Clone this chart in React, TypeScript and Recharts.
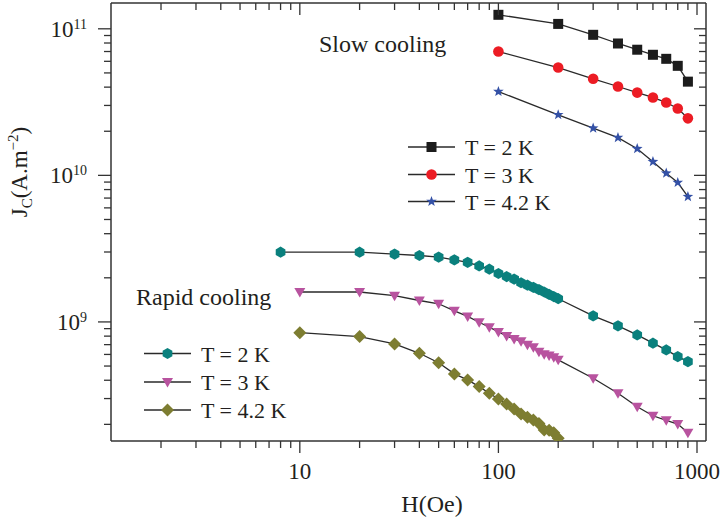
import React from "react";
import { LineChart, Line, XAxis, YAxis } from "recharts";

// slow cooling: H (Oe) and Jc (A/m^2)
const slowH = [100, 200, 300, 400, 500, 600, 700, 800, 900];
const slow2K = [1.246e11, 1.08e11, 9.1e10, 7.94e10, 7.2e10, 6.65e10, 6.24e10, 5.59e10, 4.36e10];
const slow3K = [7.0e10, 5.44e10, 4.56e10, 4.04e10, 3.67e10, 3.4e10, 3.14e10, 2.86e10, 2.45e10];
const slow42K = [3.73e10, 2.59e10, 2.1e10, 1.81e10, 1.52e10, 1.24e10, 1.035e10, 8.93e9, 7.16e9];

// rapid cooling
const rapid2KH = [8, 20, 30, 40, 50, 60, 70, 80, 90, 100, 110, 120, 130, 140, 150, 160, 170, 180, 190, 200, 300, 400, 500, 600, 700, 800, 900];
const rapid2K = [2.99e9, 2.99e9, 2.9e9, 2.84e9, 2.77e9, 2.65e9, 2.55e9, 2.41e9, 2.29e9, 2.14e9, 2.04e9, 1.96e9, 1.85e9, 1.78e9, 1.72e9, 1.66e9, 1.6e9, 1.54e9, 1.49e9, 1.44e9, 1.1e9, 9.4e8, 8.15e8, 7.16e8, 6.44e8, 5.8e8, 5.36e8];
const rapid3KH = [10, 20, 30, 40, 50, 60, 70, 80, 90, 100, 110, 120, 130, 140, 150, 160, 170, 180, 190, 200, 300, 400, 500, 600, 700, 800, 900];
const rapid3K = [1.6e9, 1.6e9, 1.51e9, 1.4e9, 1.33e9, 1.19e9, 1.09e9, 9.95e8, 9.2e8, 8.55e8, 8.02e8, 7.65e8, 7.38e8, 7.0e8, 6.72e8, 6.27e8, 6.02e8, 5.89e8, 5.74e8, 5.51e8, 4.13e8, 3.26e8, 2.64e8, 2.29e8, 2.13e8, 2.01e8, 1.75e8];
const rapid42KH = [10, 20, 30, 40, 50, 60, 70, 80, 90, 100, 110, 120, 130, 140, 150, 160, 170, 180, 190, 200];
const rapid42K = [8.45e8, 7.94e8, 7.08e8, 6.11e8, 5.27e8, 4.42e8, 4.02e8, 3.62e8, 3.26e8, 2.98e8, 2.75e8, 2.55e8, 2.35e8, 2.24e8, 2.14e8, 2.03e8, 1.83e8, 1.82e8, 1.75e8, 1.61e8];

const xTicks = [2, 3, 4, 5, 6, 7, 8, 9, 10, 20, 30, 40, 50, 60, 70, 80, 90, 100, 200, 300, 400, 500, 600, 700, 800, 900, 1000];
const yTicks = [
  2e8, 3e8, 4e8, 5e8, 6e8, 7e8, 8e8, 9e8,
  1e9, 2e9, 3e9, 4e9, 5e9, 6e9, 7e9, 8e9, 9e9,
  1e10, 2e10, 3e10, 4e10, 5e10, 6e10, 7e10, 8e10, 9e10,
  1e11,
];

const legendLabels = ["T = 2 K", "T = 3 K", "T = 4.2 K"];

const FONT = "Liberation Serif, Times New Roman, Times, serif";
const AXIS = "#333";
const TEXT = "#231f20";
const LINE = "#2a2a2a";

type Shape = "square" | "circle" | "star" | "hexagon" | "tri" | "diamond";

const series: { name: string; xs: number[]; ys: number[]; shape: Shape; color: string }[] = [
  { name: "s2", xs: slowH, ys: slow2K, shape: "square", color: "#1c1c1c" },
  { name: "s3", xs: slowH, ys: slow3K, shape: "circle", color: "#ec1c24" },
  { name: "s42", xs: slowH, ys: slow42K, shape: "star", color: "#3451a6" },
  { name: "r2", xs: rapid2KH, ys: rapid2K, shape: "hexagon", color: "#0a807d" },
  { name: "r3", xs: rapid3KH, ys: rapid3K, shape: "tri", color: "#b8539f" },
  { name: "r42", xs: rapid42KH, ys: rapid42K, shape: "diamond", color: "#7d7d31" },
];

const txt = { fontFamily: FONT, fill: TEXT } as const;

function Marker({ shape, cx, cy, color }: { shape: Shape; cx: number; cy: number; color: string }) {
  if (shape === "square") return <rect x={cx - 5} y={cy - 5} width={10} height={10} fill={color} />;
  if (shape === "circle") return <circle cx={cx} cy={cy} r={5.3} fill={color} />;
  if (shape === "hexagon") {
    const pts = [0, 1, 2, 3, 4, 5]
      .map((i) => {
        const a = (Math.PI / 3) * i + Math.PI / 6;
        return `${cx + 5.6 * Math.cos(a)},${cy + 5.6 * Math.sin(a)}`;
      })
      .join(" ");
    return <polygon points={pts} fill={color} />;
  }
  if (shape === "star") {
    const pts: string[] = [];
    for (let i = 0; i < 10; i++) {
      const r = i % 2 === 0 ? 5.6 : 2.3;
      const a = -Math.PI / 2 + (Math.PI / 5) * i;
      pts.push(`${cx + r * Math.cos(a)},${cy + r * Math.sin(a)}`);
    }
    return <polygon points={pts.join(" ")} fill={color} />;
  }
  if (shape === "tri")
    return <polygon points={`${cx - 5.5},${cy - 4} ${cx + 5.5},${cy - 4} ${cx},${cy + 5.5}`} fill={color} />;
  return <polygon points={`${cx},${cy - 6.5} ${cx + 6.5},${cy} ${cx},${cy + 6.5} ${cx - 6.5},${cy}`} fill={color} />;
}

const makeDot = (shape: Shape, color: string) => (p: any) => {
  if (p.cx == null || p.cy == null) return <g key={`e-${p.index}`} />;
  return <Marker key={`d-${p.index}`} shape={shape} cx={p.cx} cy={p.cy} color={color} />;
};

const isMajor = (v: number) => Math.abs(Math.log10(v) - Math.round(Math.log10(v))) < 1e-6;

function BottomTick({ x, y, payload }: any) {
  const major = isMajor(payload.value);
  return (
    <g>
      <line x1={x} x2={x} y1={y} y2={y + (major ? 12 : 7)} stroke={AXIS} strokeWidth={1.3} />
      {major && (
        <text x={x} y={y + 38} textAnchor="middle" fontSize={23} style={txt}>
          {payload.value}
        </text>
      )}
    </g>
  );
}

function TopTick({ x, y, payload }: any) {
  const major = isMajor(payload.value);
  return <line x1={x} x2={x} y1={y} y2={y + (major ? 12 : 7)} stroke={AXIS} strokeWidth={1.3} />;
}

function LeftTick({ x, y, payload }: any) {
  const major = isMajor(payload.value);
  const exp = Math.round(Math.log10(payload.value));
  return (
    <g>
      <line x1={x} x2={x - (major ? 13 : 7)} y1={y} y2={y} stroke={AXIS} strokeWidth={1.3} />
      {major && (
        <text x={x - 24} y={y + 8} textAnchor="end" fontSize={23} style={txt}>
          10
          <tspan dy={-8} fontSize={14}>
            {exp}
          </tspan>
        </text>
      )}
    </g>
  );
}

function RightTick({ x, y, payload }: any) {
  const major = isMajor(payload.value);
  return <line x1={x} x2={x - (major ? 12 : 7)} y1={y} y2={y} stroke={AXIS} strokeWidth={1.3} />;
}

function LegendBlock({ x, ys, items }: { x: number; ys: number[]; items: { shape: Shape; color: string }[] }) {
  return (
    <g>
      {items.map((it, i) => (
        <g key={i}>
          <line x1={x} x2={x + 47} y1={ys[i]} y2={ys[i]} stroke={LINE} strokeWidth={1.3} />
          <Marker shape={it.shape} cx={x + 23.5} cy={ys[i]} color={it.color} />
          <text x={x + 57} y={ys[i] + 8} fontSize={22} style={txt}>
            {legendLabels[i]}
          </text>
        </g>
      ))}
    </g>
  );
}

export default function App() {
  return (
    <div style={{ position: "absolute", left: 0, top: 0, width: 721, height: 519, background: "#fff", fontFamily: FONT }}>
      <LineChart width={721} height={519} margin={{ top: 0, right: 0, bottom: 0, left: 0 }}>
        <XAxis
          xAxisId="b"
          dataKey="x"
          type="number"
          scale="log"
          domain={[1.12, 1110]}
          allowDataOverflow
          ticks={xTicks}
          interval={0}
          tickSize={0}
          tickMargin={0}
          tickLine={false}
          height={78}
          axisLine={{ stroke: AXIS, strokeWidth: 1.5 }}
          tick={<BottomTick />}
        />
        <XAxis
          xAxisId="t"
          orientation="top"
          dataKey="x"
          type="number"
          scale="log"
          domain={[1.12, 1110]}
          allowDataOverflow
          ticks={xTicks}
          interval={0}
          tickSize={0}
          tickMargin={0}
          tickLine={false}
          height={3}
          axisLine={{ stroke: AXIS, strokeWidth: 1.5 }}
          tick={<TopTick />}
        />
        <YAxis
          yAxisId="l"
          type="number"
          scale="log"
          domain={[1.54e8, 1.5e11]}
          allowDataOverflow
          ticks={yTicks}
          interval={0}
          tickSize={0}
          tickMargin={0}
          tickLine={false}
          width={111}
          axisLine={{ stroke: AXIS, strokeWidth: 1.5 }}
          tick={<LeftTick />}
        />
        <YAxis
          yAxisId="r"
          orientation="right"
          type="number"
          scale="log"
          domain={[1.54e8, 1.5e11]}
          allowDataOverflow
          ticks={yTicks}
          interval={0}
          tickSize={0}
          tickMargin={0}
          tickLine={false}
          width={15}
          axisLine={{ stroke: AXIS, strokeWidth: 1.5 }}
          tick={<RightTick />}
        />
        {series.map((s) => (
          <Line
            key={s.name}
            xAxisId="b"
            yAxisId="l"
            data={s.xs.map((x, i) => ({ x, y: s.ys[i] }))}
            dataKey="y"
            type="linear"
            stroke={LINE}
            strokeWidth={1.3}
            dot={makeDot(s.shape, s.color)}
            activeDot={false}
            isAnimationActive={false}
          />
        ))}
      </LineChart>
      <svg width={721} height={519} style={{ position: "absolute", left: 0, top: 0, pointerEvents: "none" }}>
        <text x={319} y={52} fontSize={24} style={txt}>
          Slow cooling
        </text>
        <text x={136} y={305} fontSize={24} style={txt}>
          Rapid cooling
        </text>
        <LegendBlock x={408} ys={[147, 174.5, 201.5]} items={series.slice(0, 3)} />
        <LegendBlock x={144} ys={[353.5, 382, 410]} items={series.slice(3)} />
        <text x={432} y={512} textAnchor="middle" fontSize={24} style={txt}>
          H(Oe)
        </text>
        <text transform="translate(27,172) rotate(-90)" textAnchor="middle" fontSize={23} style={txt}>
          J
          <tspan dy={5} fontSize={15}>C</tspan>
          <tspan dy={-5}>(A.m</tspan>
          <tspan dy={-9} fontSize={15}>−2</tspan>
          <tspan dy={9}>)</tspan>
        </text>
      </svg>
    </div>
  );
}
